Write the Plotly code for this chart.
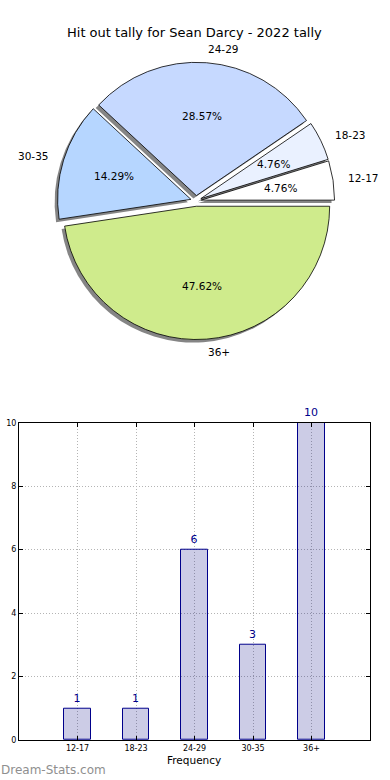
import math
import plotly.graph_objects as go

# ---------------- data ----------------
categories = ["12-17", "18-23", "24-29", "30-35", "36+"]
counts = [1, 1, 6, 3, 10]
pie_colors = ["#ffffff", "#eaf1ff", "#c6d9ff", "#b6d6ff", "#cfeb8c"]
y_ticks = [0, 2, 4, 6, 8, 10]
title_text = "Hit out tally for Sean Darcy - 2022 tally"
x_title = "Frequency"
y_title = "Number of Games"
watermark = "Dream-Stats.com"

FONT = "DejaVu Sans"
NAVY = "#00008b"

# ---------------- layout constants ----------------
W, H = 390, 780
ML, MR, MT, MB = 19, 20, 0, 40
PW, PH = W - ML - MR, H - MT - MB


def px_x(x):
    return (x - ML) / PW


def px_y(y):
    return (H - MB - y) / PH


R = 134          # pie radius (px)
PULL = 0.04      # explode fraction
CX, CY = 196, 198
BOX = 2 * R * (1 + PULL)
SHX, SHY = -3, 3  # shadow offset (px)

dom_x = [px_x(CX - BOX / 2), px_x(CX + BOX / 2)]
dom_y = [px_y(CY + BOX / 2), px_y(CY - BOX / 2)]
sdom_x = [px_x(CX + SHX - BOX / 2), px_x(CX + SHX + BOX / 2)]
sdom_y = [px_y(CY + SHY + BOX / 2), px_y(CY + SHY - BOX / 2)]

total = sum(counts)
# plotly puts the first counterclockwise slice on the clockwise side of `rotation`
rotation = 90 - 360.0 * counts[0] / total

fig = go.Figure()

# shadow pie
fig.add_trace(go.Pie(
    labels=categories, values=counts, sort=False, direction="counterclockwise",
    rotation=rotation, pull=[PULL] * len(counts), domain=dict(x=sdom_x, y=sdom_y),
    marker=dict(colors=["#858585"] * len(counts), line=dict(width=0)),
    textinfo="none", hoverinfo="skip", showlegend=False,
))
# main pie
fig.add_trace(go.Pie(
    labels=categories, values=counts, sort=False, direction="counterclockwise",
    rotation=rotation, pull=[PULL] * len(counts), domain=dict(x=dom_x, y=dom_y),
    marker=dict(colors=pie_colors, line=dict(color="#000000", width=0.8)),
    textinfo="none", showlegend=False,
))

# pie labels and percentages placed from the data
annotations = []
start = 0.0
for cat, v in zip(categories, counts):
    frac = v / total
    mid = math.radians(start + frac * 180)
    start += frac * 360
    c, s = math.cos(mid), math.sin(mid)
    ox, oy = CX + PULL * R * c, CY - PULL * R * s
    lx, ly = ox + 1.1 * R * c, oy - 1.1 * R * s
    annotations.append(dict(
        x=px_x(lx), y=px_y(ly), xref="paper", yref="paper", text=cat,
        showarrow=False, xanchor="left" if c > 0 else "right", yanchor="middle",
        borderpad=0, font=dict(family=FONT, size=10.5, color="#000000"),
    ))
    tx, ty = ox + 0.6 * R * c, oy - 0.6 * R * s
    annotations.append(dict(
        x=px_x(tx), y=px_y(ty), xref="paper", yref="paper",
        text=f"{frac * 100:.2f}%", showarrow=False, xanchor="center", yanchor="middle",
        font=dict(family=FONT, size=10.5, color="#000000"),
    ))

# bar chart (translucent fill so the grid shows through, as in the reference)
fig.add_trace(go.Bar(
    x=categories, y=counts, width=0.45,
    marker=dict(color="rgba(0,0,128,0.2)", line=dict(color=NAVY, width=1)),
    text=[str(v) for v in counts], textposition="outside",
    textfont=dict(family=FONT, size=11, color=NAVY), cliponaxis=False,
    showlegend=False,
))

annotations += [
    dict(x=0.5, y=px_y(29), xref="paper", yref="paper", text=title_text,
         showarrow=False, xanchor="center", yanchor="middle",
         font=dict(family=FONT, size=13, color="#000000")),
    dict(x=px_x(194), y=px_y(760), xref="paper", yref="paper", text=x_title,
         showarrow=False, xanchor="center", yanchor="middle",
         font=dict(family=FONT, size=10.5, color="#000000")),
    dict(x=px_x(-5), y=px_y(590), xref="paper", yref="paper", text=y_title,
         showarrow=False, xanchor="center", yanchor="middle", textangle=-90,
         font=dict(family=FONT, size=10.5, color="#000000")),
    dict(x=px_x(-1), y=px_y(770), xref="paper", yref="paper", text=watermark,
         showarrow=False, xanchor="left", yanchor="middle",
         font=dict(family=FONT, size=12, color="#8f8f8f")),
]

axis_common = dict(
    showline=True, linecolor="#000000", linewidth=1, mirror="ticks",
    ticks="inside", ticklen=4, tickcolor="#000000",
    showgrid=True, gridcolor="#b4b4b4", griddash="1px,2px", gridwidth=1,
    zeroline=False, tickfont=dict(family=FONT, size=8, color="#000000"),
)

fig.update_layout(
    width=W, height=H, margin=dict(l=ML, r=MR, t=MT, b=MB),
    paper_bgcolor="#ffffff", plot_bgcolor="#ffffff",
    annotations=annotations, showlegend=False,
    xaxis=dict(domain=[0, 1], range=[-1, 5], type="category", **axis_common),
    yaxis=dict(domain=[0, px_y(421)], range=[0, 10], tickvals=y_ticks, **axis_common),
    bargap=0,
)

fig.write_html(
    "out.html",
    config={"displayModeBar": False},
    post_script="document.body.style.margin='0';document.body.style.padding='0';",
)
